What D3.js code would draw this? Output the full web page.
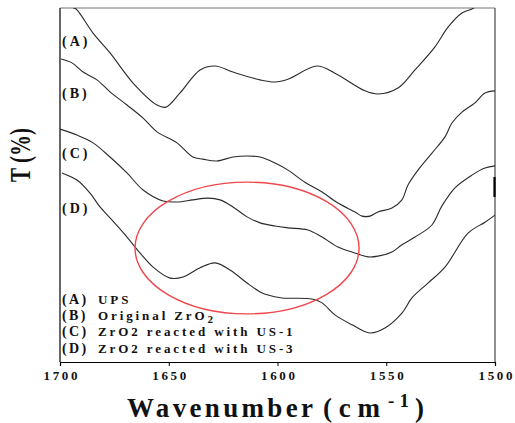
<!DOCTYPE html>
<html>
<head>
<meta charset="utf-8">
<script src="https://cdn.jsdelivr.net/npm/d3@7"></script>
<style>
  html, body { margin: 0; padding: 0; background: #fff; }
  svg { display: block; }
  text { font-family: "Liberation Serif", "Times New Roman", serif; font-weight: bold; fill: #111; }
</style>
</head>
<body>
<svg id="chart" width="515" height="423"></svg>
<script>
// FTIR transmittance traces (offset for clarity), wavenumber in cm-1
const wavenumberTicks = [1700, 1650, 1600, 1550, 1500];

const waveA = [1694, 1692.6, 1684.8, 1677, 1666.4, 1655.4, 1651.3, 1644.8, 1635.6, 1628.7, 1620.5, 1608, 1601.1, 1595.2, 1581.8, 1573.6, 1559.8, 1553.8, 1544.6, 1536.8, 1527.6, 1521.6, 1515.2, 1510.6, 1509.6];
const transA = [100, 99.7, 92.9, 87.3, 78.8, 72.6, 72.0, 76.0, 82.5, 83.6, 81.9, 79.7, 79.1, 79.9, 83.6, 81.6, 76.6, 75.7, 77.4, 82.5, 89.0, 94.6, 98.6, 99.7, 100];

const waveB = [1699.5, 1694.5, 1689.4, 1683.0, 1677.0, 1669.2, 1661.8, 1655.4, 1646.2, 1638.9, 1634.3, 1627.8, 1620.5, 1614.0, 1608.0, 1601.1, 1595.2, 1587.4, 1579.5, 1572.2, 1564.4, 1561.1, 1557.5, 1553.8, 1547.4, 1542.8, 1540.0, 1535.4, 1529.0, 1523.0, 1519.8, 1515.2, 1509.2, 1504.6, 1500.0];
const transB = [85.6, 84.5, 81.9, 79.7, 76.3, 72.6, 68.9, 65.0, 61.9, 57.9, 57.3, 56.8, 57.9, 58.2, 57.9, 56.2, 54.2, 50.8, 48.0, 44.9, 42.4, 41.2, 41.2, 42.4, 43.5, 45.8, 50.0, 54.2, 59.0, 63.6, 67.5, 70.6, 73.2, 76.0, 76.6];

const waveC = [1700, 1692.2, 1684.8, 1677.0, 1669.2, 1661.8, 1652.6, 1646.2, 1638.9, 1632.0, 1626.4, 1620.5, 1614.0, 1608.0, 1601.1, 1595.2, 1586.0, 1579.5, 1572.2, 1564.4, 1558.4, 1553.8, 1547.4, 1542.8, 1536.8, 1529.0, 1524.4, 1518.4, 1510.6, 1504.6, 1500];
const transC = [65.8, 64.1, 61.9, 57.9, 53.4, 48.6, 45.5, 45.2, 45.8, 46.3, 45.8, 43.8, 41.0, 39.3, 38.4, 37.9, 37.3, 35.3, 32.5, 30.8, 29.7, 29.9, 31.1, 33.1, 35.3, 38.7, 44.1, 49.2, 52.8, 54.8, 55.4];

const waveD = [1699.1, 1692.2, 1686.2, 1681.6, 1677.0, 1669.2, 1663.2, 1657.2, 1649.4, 1643.4, 1635.6, 1628.7, 1621.8, 1614.0, 1608.0, 1604.4, 1597.9, 1584.1, 1579.5, 1573.6, 1565.7, 1557.5, 1550.6, 1542.8, 1538.2, 1530.8, 1523.0, 1512.4, 1504.6, 1500];
const transD = [53.4, 51.4, 47.7, 43.8, 40.7, 35.3, 30.8, 26.8, 23.7, 24.0, 26.6, 28.0, 26.0, 22.3, 19.8, 18.9, 18.1, 17.8, 16.7, 13.3, 10.5, 8.2, 9.6, 13.8, 18.1, 22.3, 26.8, 36.4, 39.5, 41.5];

const curveTags = ["(A)", "(B)", "(C)", "(D)"];
const tagLevels = [90.5, 76, 59, 43.5];
const legendTags = ["(A)", "(B)", "(C)", "(D)"];
const legendNames = ["UPS", "Original ZrO", "ZrO2 reacted with US-1", "ZrO2 reacted with US-3"];

const series = [
  { w: waveA, t: transA },
  { w: waveB, t: transB },
  { w: waveC, t: transC },
  { w: waveD, t: transD }
];

const svg = d3.select("#chart");
const plotLeft = 60, plotRight = 495, plotTop = 8, plotBottom = 362;

const x = d3.scaleLinear().domain([1700, 1500]).range([plotLeft, plotRight]);
const y = d3.scaleLinear().domain([0, 100]).range([plotBottom, plotTop]);

svg.append("defs").append("clipPath").attr("id", "plotClip")
  .append("rect").attr("x", plotLeft).attr("y", plotTop)
  .attr("width", plotRight - plotLeft).attr("height", plotBottom - plotTop);

// frame
svg.append("line").attr("x1", plotLeft).attr("x2", plotRight).attr("y1", plotTop).attr("y2", plotTop)
  .attr("stroke", "#777").attr("stroke-width", 1);
svg.append("line").attr("x1", plotRight).attr("x2", plotRight).attr("y1", plotTop).attr("y2", plotBottom)
  .attr("stroke", "#222").attr("stroke-width", 1);
svg.append("line").attr("x1", plotRight - 0.5).attr("x2", plotRight - 0.5).attr("y1", 177).attr("y2", 197)
  .attr("stroke", "#000").attr("stroke-width", 2.2);
svg.append("line").attr("x1", plotLeft).attr("x2", plotLeft).attr("y1", plotTop).attr("y2", plotBottom)
  .attr("stroke", "#000").attr("stroke-width", 1.2);

// x axis
const xAxis = d3.axisBottom(x).tickValues(wavenumberTicks).tickSize(4).tickPadding(5).tickFormat(d3.format("d"));
const gx = svg.append("g").attr("transform", `translate(0,${plotBottom})`).call(xAxis);
gx.select(".domain").attr("stroke", "#000").attr("stroke-width", 1.2);
gx.selectAll(".tick line").attr("stroke", "#000");
gx.selectAll(".tick text")
  .style("font-family", '"Liberation Serif", serif').style("font-weight", "bold")
  .style("font-size", "13px").style("letter-spacing", "2.6px").attr("fill", "#111")
  .attr("dx", "1.3px");

// spectra
const line = d3.line().x(d => x(d[0])).y(d => y(d[1])).curve(d3.curveCatmullRom.alpha(0.5));
const plot = svg.append("g").attr("clip-path", "url(#plotClip)");
series.forEach(s => {
  const pts = s.w.map((w, i) => [w, s.t[i]]);
  plot.append("path").datum(pts).attr("d", line)
    .attr("fill", "none").attr("stroke", "#2a2a2a").attr("stroke-width", 1.1);
});

// highlight ellipse around the 1600-1650 region
svg.append("ellipse")
  .attr("cx", x(1614)).attr("cy", y(32.2))
  .attr("rx", x(1500) - x(1551.5)).attr("ry", y(0) - y(18.6))
  .attr("fill", "none").attr("stroke", "#f0474c").attr("stroke-width", 1.4);

// curve tags
curveTags.forEach((tag, i) => {
  svg.append("text").attr("x", 62).attr("y", y(tagLevels[i]))
    .attr("dy", "0.33em").style("font-size", "14px").style("letter-spacing", "3px").text(tag);
});

// legend
const legendY = [304, 320, 336, 353];
legendTags.forEach((tag, i) => {
  const t = svg.append("text").attr("y", legendY[i]);
  t.append("tspan").attr("x", 62).style("font-size", "14px").style("letter-spacing", "2.4px").text(tag);
  t.append("tspan").attr("x", 98).style("font-size", "13px").style("letter-spacing", "2.9px").text(legendNames[i]);
  if (i === 1) {
    t.append("tspan").attr("dy", 3).style("font-size", "11px").text("2");
  }
});

// x axis title: spaced-out word, unit with superscript
const titleY = 417;
svg.append("text").attr("x", 127).attr("y", titleY).style("font-size", "27px")
  .attr("textLength", 186).attr("lengthAdjust", "spacing").text("Wavenumber");
svg.append("text").attr("x", 323).attr("y", titleY).style("font-size", "27px")
  .attr("textLength", 57).attr("lengthAdjust", "spacing").text("(cm");
svg.append("text").attr("x", 388).attr("y", titleY - 10).style("font-size", "19px")
  .attr("textLength", 21).attr("lengthAdjust", "spacing").text("-1");
svg.append("text").attr("x", 415).attr("y", titleY).style("font-size", "27px").text(")");

svg.append("text")
  .attr("transform", "translate(30,155) rotate(-90) scale(1,1.4)")
  .attr("text-anchor", "middle")
  .style("font-size", "21px").text("T (%)");
</script>
</body>
</html>
